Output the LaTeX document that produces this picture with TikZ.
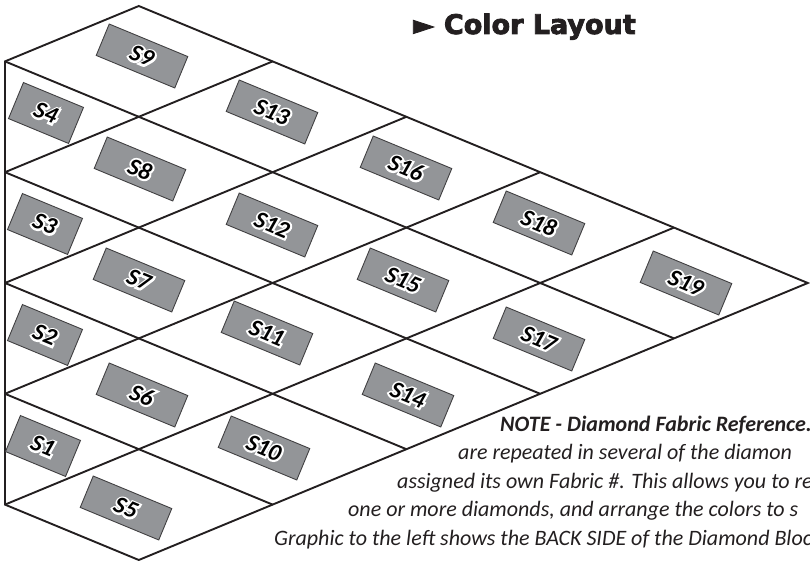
\documentclass[tikz,border=0pt]{standalone}
\usepackage{fontspec}
\usepackage{xcolor}
\usepackage{tikz}

\newfontfamily\headfont{DejaVu Sans}[FakeBold=3]
\newfontfamily\fabricfont{Carlito}
\newfontfamily\tagface{Carlito}
\newfontfamily\tagglow{Carlito}[FakeBold=16]
\definecolor{tagGray}{HTML}{939598}
\definecolor{tagEdge}{HTML}{414042}
\definecolor{inkGray}{HTML}{231F20}

% white rim round a tag label
\newcommand\tagtext[1]{\makebox[0pt][l]{\tagglow\bfseries\itshape\color{white}#1}#1}

\tikzset{
    seam/.style={
        draw=inkGray,
        line width=1.9pt,
        line join=miter
    },
    tag/.style={
        rectangle,
        draw=tagEdge,
        line width=0.9pt,
        fill=tagGray,
        minimum width=85pt,
        minimum height=34pt,
        inner sep=0pt,
        rotate=-22.5,
        text=black,
        font=\tagface\bfseries\itshape\fontsize{24}{24}\selectfont
    },
    sidetag/.style={
        tag,
        minimum width=65pt,
        minimum height=39pt
    },
    noteline/.style={
        anchor=base west,
        inner sep=0pt,
        text=inkGray,
        font=\fabricfont\itshape\fontsize{22}{22}\selectfont
    },
    heading/.style={
        anchor=base west,
        inner sep=0pt,
        text=inkGray,
        font=\headfont\bfseries\fontsize{27}{27}\selectfont
    }
}

\begin{document}
\begin{tikzpicture}[x=1pt, y=-1pt]
\useasboundingbox (0,0) rectangle (810,561);

% Lattice corners
\begin{scope}[shift={(5pt,-6pt)}, x=133.8pt, y=-55.4pt]
\coordinate (l1) at (0,1);
\coordinate (l3) at (0,3);
\coordinate (l5) at (0,5);
\coordinate (l7) at (0,7);
\coordinate (l9) at (0,9);
\coordinate (apex) at (1,0);
\coordinate (tip) at (6,5);
\coordinate (foot) at (1,10);
\coordinate (e56) at (5,6);
\coordinate (e47) at (4,7);
\coordinate (e38) at (3,8);
\coordinate (e29) at (2,9);
\coordinate (e54) at (5,4);
\coordinate (e43) at (4,3);
\coordinate (e32) at (3,2);
\coordinate (e21) at (2,1);
\end{scope}

% Outline and seams
\draw[seam] (l1) -- (apex) -- (tip) -- (foot) -- (l9) -- cycle;
\draw[seam] (l1) -- (e56);
\draw[seam] (l3) -- (e47);
\draw[seam] (l5) -- (e38);
\draw[seam] (l7) -- (e29);
\draw[seam] (l9) -- (e54);
\draw[seam] (l7) -- (e43);
\draw[seam] (l5) -- (e32);
\draw[seam] (l3) -- (e21);

% Half diamonds on the left edge
\node[sidetag] (s4) at (46,113) {\tagtext{S4}};
\node[sidetag] (s3) at (45,224) {\tagtext{S3}};
\node[sidetag] (s2) at (45,335) {\tagtext{S2}};
\node[sidetag] (s1) at (43,446) {\tagtext{S1}};

% Full diamonds
\node[tag] (s9) at (142,56) {\tagtext{S9}};
\node[tag] (s8) at (140,169) {\tagtext{S8}};
\node[tag] (s7) at (139,280) {\tagtext{S7}};
\node[tag] (s6) at (142,395) {\tagtext{S6}};
\node[tag] (s5) at (126,508) {\tagtext{S5}};

\node[tag] (s13) at (272,112) {\tagtext{S13}};
\node[tag] (s12) at (272,225) {\tagtext{S12}};
\node[tag] (s11) at (267,333) {\tagtext{S11}};
\node[tag] (s10) at (264,448) {\tagtext{S10}};

\node[tag] (s16) at (406,168) {\tagtext{S16}};
\node[tag] (s15) at (403,280) {\tagtext{S15}};
\node[tag] (s14) at (408,395) {\tagtext{S14}};

\node[tag] (s18) at (539,223) {\tagtext{S18}};
\node[tag] (s17) at (539,339) {\tagtext{S17}};

\node[tag] (s19) at (686,283) {\tagtext{S19}};

% Heading
\node[heading] (title) at (413,34) {►\hspace{10pt}Color Layout};

% Note, cut at the right edge
\node[noteline] (note1) at (500,431) {\bfseries NOTE - Diamond Fabric Reference.};
\node[noteline] (note2) at (458,459.5) {are repeated in several of the diamon};
\node[noteline] (note3) at (397,488) {assigned its own Fabric \#. This allows you to re};
\node[noteline] (note4) at (348,516.5) {one or more diamonds, and arrange the colors to s};
\node[noteline] (note5) at (274,545) {Graphic to the left shows the BACK SIDE of the Diamond Bloc};

\end{tikzpicture}
\end{document}
